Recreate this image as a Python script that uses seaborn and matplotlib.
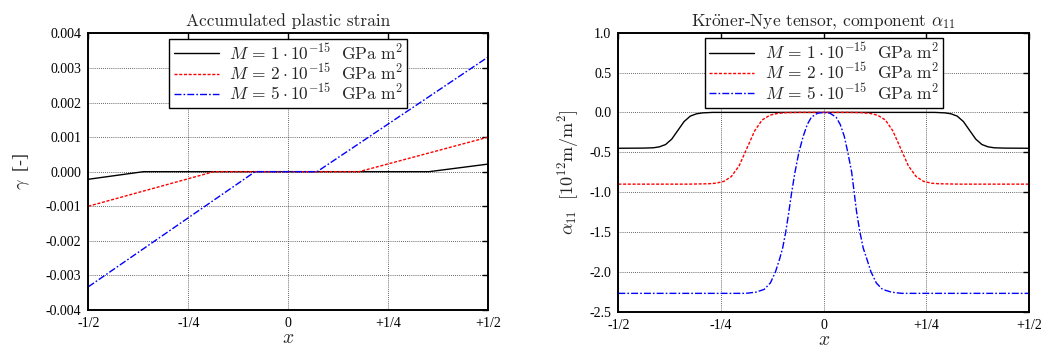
import numpy as np
import pandas as pd
import matplotlib
matplotlib.use("Agg")
import matplotlib.pyplot as plt
import seaborn as sns

# ---------------- data ----------------
series_labels = [r"$M\, =\, 1\cdot10^{-15}\ \ \mathrm{GPa}\ \mathrm{m}^2$",
                 r"$M\, =\, 2\cdot10^{-15}\ \ \mathrm{GPa}\ \mathrm{m}^2$",
                 r"$M\, =\, 5\cdot10^{-15}\ \ \mathrm{GPa}\ \mathrm{m}^2$"]

# left panel: accumulated plastic strain (piecewise linear)
gamma_x_1 = [-0.5, -0.362, 0.352, 0.5]
gamma_y_1 = [-0.00022, 0.0, 0.0, 0.00022]
gamma_x_2 = [-0.5, -0.186, 0.177, 0.5]
gamma_y_2 = [-0.00100, 0.0, 0.0, 0.00100]
gamma_x_5 = [-0.5, -0.083, 0.072, 0.5]
gamma_y_5 = [-0.00333, 0.0, 0.0, 0.00332]

# right panel: Kroener-Nye tensor alpha_11
alpha_x_1 = [-0.5, -0.44, -0.415, -0.40, -0.385, -0.37, -0.355, -0.34, -0.325, -0.31, -0.295, -0.27,
             0.27, 0.295, 0.31, 0.325, 0.34, 0.355, 0.37, 0.385, 0.40, 0.415, 0.44, 0.5]
alpha_y_1 = [-0.45, -0.448, -0.444, -0.432, -0.403, -0.335, -0.225, -0.115, -0.047, -0.018, -0.006, 0.0,
             0.0, -0.006, -0.018, -0.047, -0.115, -0.225, -0.335, -0.403, -0.432, -0.444, -0.448, -0.45]

alpha_x_2 = [-0.5, -0.33, -0.28, -0.262, -0.243, -0.225, -0.206, -0.187, -0.168, -0.15, -0.131, -0.112, -0.09, -0.06,
             0.06, 0.09, 0.112, 0.131, 0.15, 0.168, 0.187, 0.206, 0.225, 0.243, 0.262, 0.28, 0.33, 0.5]
alpha_y_2 = [-0.90, -0.90, -0.895, -0.888, -0.865, -0.805, -0.67, -0.45, -0.23, -0.095, -0.035, -0.012, -0.003, 0.0,
             0.0, -0.003, -0.012, -0.035, -0.095, -0.23, -0.45, -0.67, -0.805, -0.865, -0.888, -0.895, -0.90, -0.90]

alpha_x_5 = [-0.5, -0.19, -0.165, -0.145, -0.13, -0.1175, -0.1075, -0.10, -0.0925, -0.085, -0.078, -0.07,
             -0.0605, -0.05, -0.04, -0.03, -0.015, 0.0,
             0.015, 0.03, 0.04, 0.05, 0.0585, 0.068, 0.074, 0.08, 0.088, 0.096, 0.105, 0.115, 0.128, 0.143, 0.165, 0.19, 0.5]
alpha_y_5 = [-2.27, -2.27, -2.255, -2.22, -2.14, -2.0, -1.84, -1.70, -1.5, -1.25, -1.0, -0.75,
             -0.5, -0.3, -0.15, -0.06, -0.01, 0.0,
             -0.01, -0.06, -0.15, -0.3, -0.5, -0.75, -1.0, -1.25, -1.5, -1.70, -1.84, -2.0, -2.14, -2.22, -2.255, -2.27, -2.27]

x_ticks = [-0.5, -0.25, 0.0, 0.25, 0.5]
x_tick_labels = ["-1/2", "-1/4", "0", "+1/4", "+1/2"]
gamma_ticks = [0.004, 0.003, 0.002, 0.001, 0.0, -0.001, -0.002, -0.003, -0.004]
gamma_tick_labels = ["0.004", "0.003", "0.002", "0.001", "0.000", "-0.001", "-0.002", "-0.003", "-0.004"]
alpha_ticks = [1.0, 0.5, 0.0, -0.5, -1.0, -1.5, -2.0, -2.5]
alpha_tick_labels = ["1.0", "0.5", "0.0", "-0.5", "-1.0", "-1.5", "-2.0", "-2.5"]

colors = ["black", "red", "blue"]
dashes = ["-", (0, (2.2, 1.2)), (0, (5, 1.5, 1.2, 1.5))]

# ---------------- style ----------------
sns.set_style("white")
plt.rcParams["mathtext.fontset"] = "cm"
plt.rcParams["font.family"] = ["Liberation Serif", "DejaVu Serif"]

fig = plt.figure(figsize=(10.41, 3.54), dpi=100)
ax1 = fig.add_axes([0.0848, 0.1243, 0.3843, 0.7815])
ax2 = fig.add_axes([0.5940, 0.1195, 0.3946, 0.7882])

def draw(ax, xs, ys):
    for i, (xv, yv) in enumerate(zip(xs, ys)):
        df = pd.DataFrame({"x": xv, "y": yv})
        sns.lineplot(data=df, x="x", y="y", ax=ax, color=colors[i], sort=False,
                     estimator=None, linewidth=1.0, label=series_labels[i])
        ax.lines[-1].set_linestyle(dashes[i])

draw(ax1, [gamma_x_1, gamma_x_2, gamma_x_5], [gamma_y_1, gamma_y_2, gamma_y_5])
draw(ax2, [alpha_x_1, alpha_x_2, alpha_x_5], [alpha_y_1, alpha_y_2, alpha_y_5])

ax1.set_ylim(-0.004, 0.004)
ax1.set_yticks(gamma_ticks)
ax1.set_yticklabels(gamma_tick_labels)
ax2.set_ylim(-2.5, 1.0)
ax2.set_yticks(alpha_ticks)
ax2.set_yticklabels(alpha_tick_labels)

title_font = ["cmr10", "DejaVu Serif"]
ax1.set_title("Accumulated plastic strain", fontsize=12.5, family=title_font, pad=5)
ax2.set_title(r"Kr$\ddot{\mathrm{o}}$ner-Nye tensor, component $\alpha_{11}$",
              fontsize=12.5, family=title_font, pad=5)
ax1.set_ylabel(r"$\gamma$  [-]", fontsize=13, labelpad=10)
ax2.set_ylabel(r"$\alpha_{11}\ \ [10^{12}\mathrm{m/m^2}]$", fontsize=13, labelpad=6)

for ax in (ax1, ax2):
    ax.set_xlim(-0.5, 0.5)
    ax.set_xticks(x_ticks)
    ax.set_xticklabels(x_tick_labels)
    ax.set_xlabel(r"$x$", fontsize=14, labelpad=0)
    ax.grid(True, color="black", linestyle=(0, (1, 1.5)), linewidth=0.6, alpha=0.8)
    ax.tick_params(direction="in", top=True, right=True, length=4, width=1,
                   labelsize=10, pad=5, colors="black")
    for s in ax.spines.values():
        s.set_linewidth(1.4)
        s.set_color("black")
    leg = ax.legend(loc="upper center", fontsize=12.5, fancybox=False, framealpha=1,
                    edgecolor="black", borderpad=0.25, labelspacing=0.0,
                    handlelength=2.6, handletextpad=0.6, borderaxespad=0.3)
    leg.get_frame().set_linewidth(1.0)

fig.savefig("out.png", dpi=100)
